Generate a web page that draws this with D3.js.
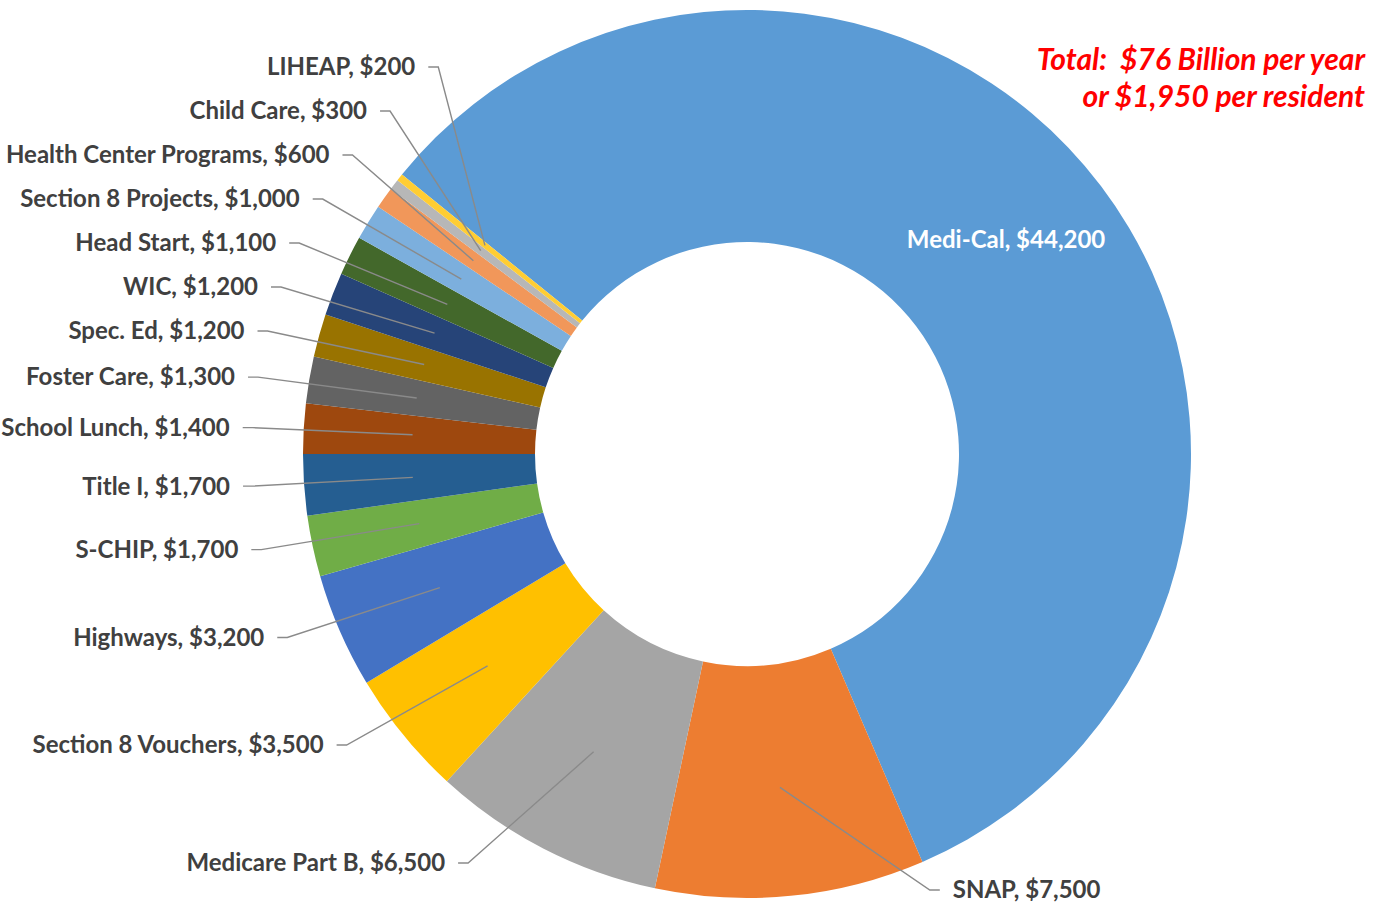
<!DOCTYPE html>
<html>
<head>
<meta charset="utf-8">
<script src="https://cdn.jsdelivr.net/npm/d3@7"></script>
<style>
  body { margin: 0; background: #fff; }
  text { font-family: Lato, "Open Sans", sans-serif; }
  text.total { white-space: pre; }
</style>
</head>
<body>
<svg id="donut_chart"></svg>
<script>
const programs = ["Medi-Cal", "SNAP", "Medicare Part B", "Section 8 Vouchers", "Highways", "S-CHIP",
    "Title I", "School Lunch", "Foster Care", "Spec. Ed", "WIC", "Head Start",
    "Section 8 Projects", "Health Center Programs", "Child Care", "LIHEAP"];
const amounts = [44200, 7500, 6500, 3500, 3200, 1700, 1700, 1400, 1300, 1200, 1200, 1100, 1000, 600, 300, 200];
const sliceColors = ["#5B9BD5", "#ED7D31", "#A5A5A5", "#FFC000", "#4472C4", "#70AD47",
    "#255E91", "#9E480E", "#636363", "#997300", "#264478", "#43682B",
    "#7CAFDD", "#F1975A", "#B7B7B7", "#FFCD33"];
const totalLines = ["Total:  $76 Billion per year", "or $1,950 per resident"];

function makeDonutChart() {
    let w = 1373;
    let h = 903;
    let cx = 747, cy = 454;
    let rOuter = 444, rInner = 212;

    let svg = d3.select('#donut_chart')
        .attr('width', w)
        .attr('height', h);

    let g = svg.append('g')
        .attr('transform', `translate(${cx}, ${cy})`);

    // excel "first slice angle" rotation
    let start = -51 * Math.PI / 180;
    let pie = d3.pie()
        .sort(null)
        .startAngle(start)
        .endAngle(start + 2 * Math.PI);
    let arcs = pie(amounts);

    let arc = d3.arc().innerRadius(rInner).outerRadius(rOuter);
    let leaderArc = d3.arc().innerRadius(250).outerRadius(420);

    g.selectAll('path.slice')
        .data(arcs)
        .enter()
        .append('path')
        .attr('class', 'slice')
        .attr('d', arc)
        .attr('fill', d => sliceColors[d.index]);

    let total = d3.sum(amounts);
    let fmt = d3.format(',');
    let labelText = i => `${programs[i]}, $${fmt(amounts[i])}`;

    // big slice gets its label inside
    let inside = arcs.filter(d => d.value / total > 0.3);
    let outside = arcs.filter(d => d.value / total <= 0.3);

    g.selectAll('text.inside')
        .data(inside)
        .enter()
        .append('text')
        .attr('class', 'inside')
        .attr('transform', d => {
            let c = leaderArc.centroid(d);
            return `translate(${c[0] - 8}, ${c[1] - 12})`;
        })
        .attr('text-anchor', 'middle')
        .attr('dy', '0.35em')
        .attr('fill', '#fff')
        .attr('font-size', 24)
        .attr('font-weight', 'bold')
        .text(d => labelText(d.index));

    // outside labels: natural height on an ellipse, then pushed apart
    let ry = 460, rKnee = 495, gap = 44;
    let yTop = 40 - cy, yBottom = 890 - cy;
    let items = outside.map(d => {
        let mid = (d.startAngle + d.endAngle) / 2;
        let y = -ry * Math.cos(mid);
        return { d: d, side: Math.sin(mid) < 0 ? -1 : 1, y: Math.max(yTop, Math.min(yBottom, y)) };
    });
    [-1, 1].forEach(side => {
        let list = items.filter(it => it.side === side).sort((a, b) => a.y - b.y);
        for (let i = list.length - 2; i >= 0; i--) {
            if (list[i].y > list[i + 1].y - gap) list[i].y = list[i + 1].y - gap;
        }
        for (let i = 1; i < list.length; i++) {
            if (list[i].y < list[i - 1].y + gap) list[i].y = list[i - 1].y + gap;
        }
    });
    items.forEach(it => {
        let dx = Math.sqrt(Math.max(0, rKnee * rKnee - it.y * it.y));
        // right side sits closer in (only one label there)
        it.knee = [it.side * (it.side > 0 ? dx * 0.78 : dx), it.y];
        it.end = leaderArc.centroid(it.d);
    });

    g.selectAll('path.leader')
        .data(items)
        .enter()
        .append('path')
        .attr('class', 'leader')
        .attr('d', it => d3.line()([it.end, it.knee, [it.knee[0] + it.side * 10, it.knee[1]]]))
        .attr('fill', 'none')
        .attr('stroke', '#8a8a8a')
        .attr('stroke-width', 1.4);

    g.selectAll('text.outside')
        .data(items)
        .enter()
        .append('text')
        .attr('class', 'outside')
        .attr('x', it => it.knee[0] + it.side * 23)
        .attr('y', it => it.knee[1])
        .attr('dy', '0.35em')
        .attr('text-anchor', it => it.side < 0 ? 'end' : 'start')
        .attr('fill', '#404040')
        .attr('font-size', 24)
        .attr('font-weight', 'bold')
        .text(it => labelText(it.d.index));

    svg.selectAll('text.total')
        .data(totalLines)
        .enter()
        .append('text')
        .attr('class', 'total')
        .attr('x', 1365)
        .attr('y', (d, i) => 70 + i * 37)
        .attr('text-anchor', 'end')
        .attr('fill', '#FF0000')
        .attr('font-size', 30)
        .attr('font-weight', 'bold')
        .attr('font-style', 'italic')
        .text(d => d);
}

window.onload = function() {
    makeDonutChart();
}
</script>
</body>
</html>
